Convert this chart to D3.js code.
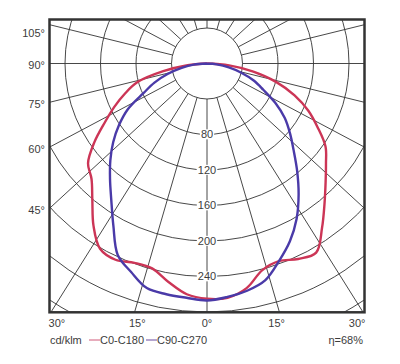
<!DOCTYPE html>
<html><head><meta charset="utf-8">
<script src="https://cdn.jsdelivr.net/npm/d3@7"></script>
<style>
body{margin:0;background:#fff}
svg{display:block}
text{font-family:"Liberation Sans",Arial,sans-serif;font-size:11px}
</style>
</head><body>
<svg id="chart" width="400" height="364"></svg>
<script>
// gamma angles (negative = left half of the diagram), degrees from nadir
const angles = [-90,-85,-80,-75,-70,-65,-60,-55,-50,-45,-40,-35,-30,-25,-20,-15,-10,-5,
                0,5,10,15,20,25,30,35,40,45,50,55,60,65,70,75,80,85,90];
// luminous intensity, cd/klm
const c0c180  = [0,22,50,81,98,115,133,155,175,184,201,223,241,244,239,239,250,261,
                 265,265,257,241,237,243,246,226,206,189,175,163,144,126,105,81,53,25,0];
const c90c270 = [0,15,29,46,63,79,103,121,138,154,170,188,211,238,250,262,264,265,
                 267,264,260,253,237,221,202,180,158,138,122,107,89,70,56,40,25,11,0];
const seriesNames = ["C0-C180","C90-C270"];
const seriesColors = ["#cc3556","#4a3aa8"];
const ringValues = [40,80,120,160,200,240,280,320,360];
const ringLabels = [80,120,160,200,240];
const sideAngles = [105,90,75,60,45];
const bottomAngles = [-30,-15,0,15,30];
const unitLabel = "cd/klm";
const efficiency = "η=68%";

const TXT = "#3c3c3c";
const svg = d3.select("#chart");
const frame = {x0:49.5, x1:364.5, y0:19.5, y1:312.3};
const cx = 207, cy = 63.5;
const spokeAspect = 0.92;
const r = d3.scaleLinear().domain([0,40]).range([0,35.5]);
const rad = d => d*Math.PI/180;

svg.append("defs").append("clipPath").attr("id","clip")
  .append("rect").attr("x",frame.x0).attr("y",frame.y0)
  .attr("width",frame.x1-frame.x0).attr("height",frame.y1-frame.y0);

const grid = svg.append("g").attr("clip-path","url(#clip)");
const g = grid.append("g").attr("transform",`translate(${cx},${cy})`);

// rings
g.selectAll("circle.ring").data(ringValues).join("circle")
  .attr("class","ring").attr("r",d=>r(d))
  .attr("fill","none").attr("stroke","#333").attr("stroke-width",0.9);

// spokes every 15°
const spokes = d3.range(0,360,15);
g.selectAll("line.spoke").data(spokes).join("line")
  .attr("class","spoke")
  .each(function(a){
    let ux = Math.sin(rad(a)), uy = Math.cos(rad(a))*spokeAspect;
    const n = Math.hypot(ux,uy); ux/=n; uy/=n;
    d3.select(this)
      .attr("x1",ux*r(40)).attr("y1",uy*r(40))
      .attr("x2",ux*r(600)).attr("y2",uy*r(600));
  })
  .attr("stroke","#333").attr("stroke-width",0.9);

// value labels on the 0° axis
const lab = svg.append("g");
ringLabels.forEach(v=>{
  const t = lab.append("text").attr("x",cx).attr("y",cy+r(v))
    .attr("text-anchor","middle").attr("dy","0.35em").attr("fill",TXT).text(v);
  const b = t.node().getBBox();
  lab.insert("rect","text").attr("x",b.x-1).attr("y",b.y+1)
    .attr("width",b.width+2).attr("height",b.height-2).attr("fill","#fff");
});

// curves
const lineR = d3.lineRadial()
  .angle(d=>Math.PI - rad(d.a))
  .radius(d=>r(d.v))
  .curve(d3.curveCatmullRom.alpha(0.5));
const curves = svg.append("g").attr("transform",`translate(${cx},${cy})`);
[c0c180,c90c270].forEach((vals,i)=>{
  const pts = angles.map((a,j)=>({a, v:vals[j]}));
  curves.append("path").attr("d",lineR(pts))
    .attr("fill","none").attr("stroke",seriesColors[i])
    .attr("stroke-width",2.4).attr("stroke-linejoin","round");
});

// frame
svg.append("rect").attr("x",frame.x0).attr("y",frame.y0)
  .attr("width",frame.x1-frame.x0).attr("height",frame.y1-frame.y0)
  .attr("fill","none").attr("stroke","#333").attr("stroke-width",2.5);

// side angle labels
const edge = cx - frame.x0;
sideAngles.forEach(a=>{
  let y = cy + edge/Math.tan(rad(a))*spokeAspect + 2;
  y = Math.max(y, frame.y0+14);
  svg.append("text").attr("x",45).attr("y",y).attr("dy","0.35em")
    .attr("text-anchor","end").attr("fill",TXT).text(a+"°");
});
// bottom angle labels
const D = 260;
bottomAngles.forEach(a=>{
  const x = cx + D*Math.tan(rad(a));
  svg.append("text").attr("x",x).attr("y",323).attr("dy","0.35em")
    .attr("text-anchor","middle").attr("fill",TXT).text(Math.abs(a)+"°");
});

// legend
const ly = 340;
svg.append("text").attr("x",50).attr("y",ly).attr("dy","0.35em").attr("fill",TXT).text(unitLabel);
const legX = [89,146];
const legCol = ["#d05a7a","#6a4aa0"];
seriesNames.forEach((n,i)=>{
  svg.append("line").attr("x1",legX[i]).attr("x2",legX[i]+11)
    .attr("y1",ly).attr("y2",ly).attr("stroke",legCol[i]).attr("stroke-width",1);
  svg.append("text").attr("x",legX[i]+11).attr("y",ly).attr("dy","0.35em").attr("fill",TXT).text(n);
});
svg.append("text").attr("x",363).attr("y",ly).attr("dy","0.35em")
  .attr("text-anchor","end").attr("fill",TXT).text(efficiency);
</script>
</body></html>
